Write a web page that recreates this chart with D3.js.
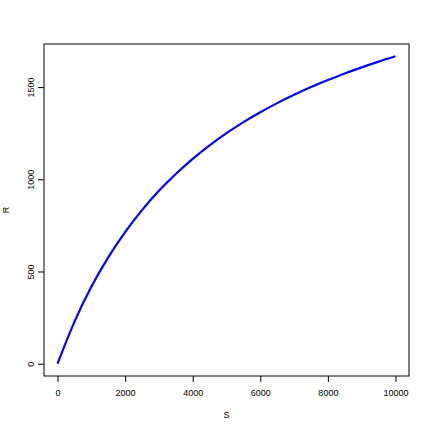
<!DOCTYPE html>
<html><head><meta charset="utf-8">
<script src="https://cdn.jsdelivr.net/npm/d3@7"></script>
<style>html,body{margin:0;padding:0;background:#fff;}svg{display:block;}text{font-family:"Liberation Sans",Arial,Helvetica,sans-serif;}</style>
</head><body>
<svg id="chart" width="432" height="432"></svg>
<script>
const S = [0,500,1000,1500,2000,2500,3000,3500,4000,4500,5000,5500,6000,6500,7000,7500,8000,8500,9000,9500,10000];
const R = [0,227,417,577,714,833,938,1029,1111,1184,1250,1310,1364,1413,1458,1500,1538,1574,1607,1638,1667];
const xTicks = [0,2000,4000,6000,8000,10000];
const yTicks = [0,500,1000,1500];
const xLabel = "S", yLabel = "R";

const svg = d3.select("#chart");
const L = 44, Rt = 409, T = 44, B = 376;
const xmax = d3.max(S), ymax = d3.max(R);
const x = d3.scale ? null : null;
const xs = d3.scaleLinear().domain([0 - 0.04*xmax, xmax*1.04]).range([L, Rt]);
const ys = d3.scaleLinear().domain([0 - 0.04*ymax, ymax*1.04]).range([B, T]);

svg.append("rect").attr("x",0).attr("y",0).attr("width",432).attr("height",432).attr("fill","#fff");

// x axis
const gx = svg.append("g").attr("transform",`translate(0,${B})`)
  .call(d3.axisBottom(xs).tickValues(xTicks).tickSize(6).tickPadding(8).tickFormat(d3.format("d")));
gx.select(".domain").remove();
gx.selectAll("line").attr("stroke","#000");
gx.selectAll("text").attr("font-size",9).attr("fill","#000");

// y axis
const gy = svg.append("g").attr("transform",`translate(${L},0)`)
  .call(d3.axisLeft(ys).tickValues(yTicks).tickSize(6).tickFormat(d3.format("d")));
gy.select(".domain").remove();
gy.selectAll("line").attr("stroke","#000");
gy.selectAll("text").attr("font-size",9).attr("fill","#000")
  .attr("text-anchor","middle").attr("x",0).attr("dy",0)
  .attr("transform",d=>`translate(-13,0) rotate(-90)`);
gy.selectAll(".tick text").attr("y",3);

// box
svg.append("rect").attr("x",L).attr("y",T).attr("width",Rt-L).attr("height",B-T)
  .attr("fill","none").attr("stroke","#000").attr("stroke-width",1);

// curve
const line = d3.line().x((d,i)=>xs(S[i])).y((d,i)=>ys(R[i])).curve(d3.curveMonotoneX);
svg.append("path").datum(R).attr("d",line).attr("fill","none")
  .attr("stroke","#0000ff").attr("stroke-width",2.2);

// labels
svg.append("text").attr("x",(L+Rt)/2).attr("y",418).attr("text-anchor","middle")
  .attr("font-size",9).text(xLabel);
svg.append("text").attr("transform",`translate(9,${(T+B)/2}) rotate(-90)`)
  .attr("text-anchor","middle").attr("font-size",9).text(yLabel);
</script>
</body></html>
